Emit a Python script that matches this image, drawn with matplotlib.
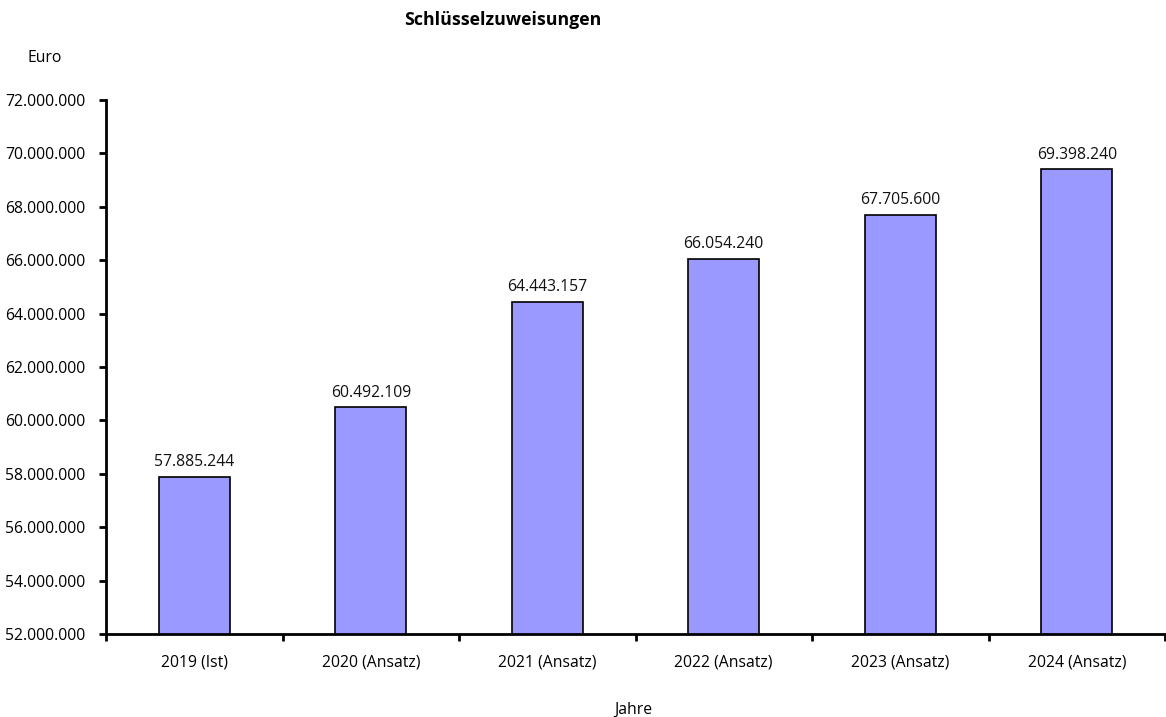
import matplotlib
matplotlib.use("Agg")
import matplotlib.pyplot as plt
from matplotlib.ticker import FuncFormatter, FixedLocator

plt.rcParams['font.family'] = ['Open Sans', 'DejaVu Sans']

categories = ["2019 (Ist)", "2020 (Ansatz)", "2021 (Ansatz)", "2022 (Ansatz)",
              "2023 (Ansatz)", "2024 (Ansatz)"]
values = [57885244, 60492109, 64443157, 66054240, 67705600, 69398240]
y_ticks = list(range(52000000, 72000001, 2000000))


def de_fmt(v):
    return f"{int(round(v)):,}".replace(",", ".")


fig = plt.figure(figsize=(11.66, 7.17), dpi=100)
ax = fig.add_axes([106 / 1166, 1 - 634 / 717, (1165 - 106) / 1166, (634 - 100) / 717])

x = list(range(len(categories)))
ax.bar(x, values, width=0.4, color="#9999FF", edgecolor="black", linewidth=1.2, zorder=2)

for xi, v in zip(x, values):
    ax.text(xi, v + 250000, de_fmt(v), ha="center", va="bottom", fontsize=11.3, color="#111111")

ax.set_xlim(-0.5, len(categories) - 0.5)
ax.set_ylim(52000000, 72000000)
ax.yaxis.set_major_locator(FixedLocator(y_ticks))
ax.yaxis.set_major_formatter(FuncFormatter(lambda v, p: de_fmt(v)))

ax.set_xticks(x)
ax.set_xticklabels(categories)
ax.set_xticks([i - 0.5 for i in range(len(categories) + 1)], minor=True)
ax.tick_params(axis="x", which="major", length=0, pad=15, labelsize=11.3)
ax.tick_params(axis="x", which="minor", length=5, width=2, direction="out")
ax.tick_params(axis="y", length=5, width=2, direction="out", pad=10, labelsize=11.3)

for s in ["top", "right"]:
    ax.spines[s].set_visible(False)
for s in ["left", "bottom"]:
    ax.spines[s].set_linewidth(2)

fig.text(503 / 1166, 1 - 20 / 717, "Schlüsselzuweisungen", ha="center", va="center",
         fontsize=12.8, fontweight="bold")
fig.text(45 / 1166, 1 - 58 / 717, "Euro", ha="center", va="center", fontsize=11.3)
fig.text(633 / 1166, 1 - 710 / 717, "Jahre", ha="center", va="center", fontsize=11.3)

fig.savefig("out.png", dpi=100)
